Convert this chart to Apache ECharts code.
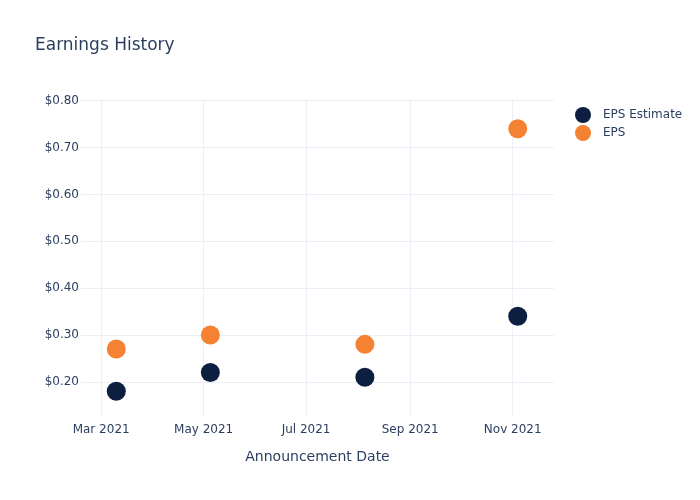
<!DOCTYPE html>
<html>
<head>
<meta charset="utf-8">
<script src="https://cdn.jsdelivr.net/npm/echarts@6/dist/echarts.min.js"></script>
<style>html,body{margin:0;padding:0;background:#fff}#c{width:700px;height:500px}</style>
</head>
<body>
<div id="c"></div>
<script>
const dates = ['2021-03-10', '2021-05-05', '2021-08-05', '2021-11-04'];
const epsEstimate = [0.18, 0.22, 0.21, 0.34];
const eps = [0.27, 0.30, 0.28, 0.74];
const yTicks = [0.2, 0.3, 0.4, 0.5, 0.6, 0.7, 0.8];
const xTicks = ['2021-03-01', '2021-05-01', '2021-07-01', '2021-09-01', '2021-11-01'];
const monthNames = ['Jan','Feb','Mar','Apr','May','Jun','Jul','Aug','Sep','Oct','Nov','Dec'];

const FONT = 'DejaVu Sans';
const TXT = '#2a3f5f';
const GRID = '#ebf0f8';

const ts = s => new Date(s + 'T00:00:00Z').getTime();
const xTickVals = xTicks.map(ts);

const chart = echarts.init(document.getElementById('c'), null, {renderer: 'canvas'});
chart.setOption({
  animation: false,
  backgroundColor: '#fff',
  textStyle: {fontFamily: FONT},
  title: {
    text: 'Earnings History', left: 30, top: 32,
    textStyle: {fontFamily: FONT, fontSize: 17, fontWeight: 'normal', color: TXT}
  },
  legend: {
    left: 570, top: 102, orient: 'vertical', icon: 'circle',
    itemWidth: 30, itemHeight: 16, itemGap: 2,
    textStyle: {fontFamily: FONT, fontSize: 12, color: TXT},
    data: ['EPS Estimate', 'EPS']
  },
  grid: {left: 81, right: 146, top: 100, bottom: 83, containLabel: false},
  xAxis: {
    type: 'value',
    min: ts('2021-02-17'), max: ts('2021-11-25') + 14 * 3600000,
    name: 'Announcement Date', nameLocation: 'middle', nameGap: 33,
    nameTextStyle: {fontFamily: FONT, fontSize: 14, color: TXT},
    axisLine: {show: false},
    axisTick: {show: false, customValues: xTickVals},
    axisLabel: {
      customValues: xTickVals, color: TXT, fontFamily: FONT, fontSize: 12, margin: 7,
      formatter: v => { const d = new Date(v); return monthNames[d.getUTCMonth()] + ' ' + d.getUTCFullYear(); }
    },
    splitLine: {show: true, lineStyle: {color: GRID, width: 1}}
  },
  yAxis: {
    type: 'value', min: 0.125, max: 0.8015,
    axisLine: {show: false},
    axisTick: {show: false, customValues: yTicks},
    axisLabel: {
      customValues: yTicks, color: TXT, fontFamily: FONT, fontSize: 12, margin: 2,
      formatter: v => '$' + v.toFixed(2)
    },
    splitLine: {show: true, lineStyle: {color: GRID, width: 1}}
  },
  series: [
    {
      name: 'EPS Estimate', type: 'scatter', symbolSize: 19,
      itemStyle: {color: '#0c1f40', opacity: 1},
      data: dates.map((d, i) => [ts(d), epsEstimate[i]])
    },
    {
      name: 'EPS', type: 'scatter', symbolSize: 19,
      itemStyle: {color: '#f58233', opacity: 1},
      data: dates.map((d, i) => [ts(d), eps[i]])
    }
  ]
});
</script>
</body>
</html>
